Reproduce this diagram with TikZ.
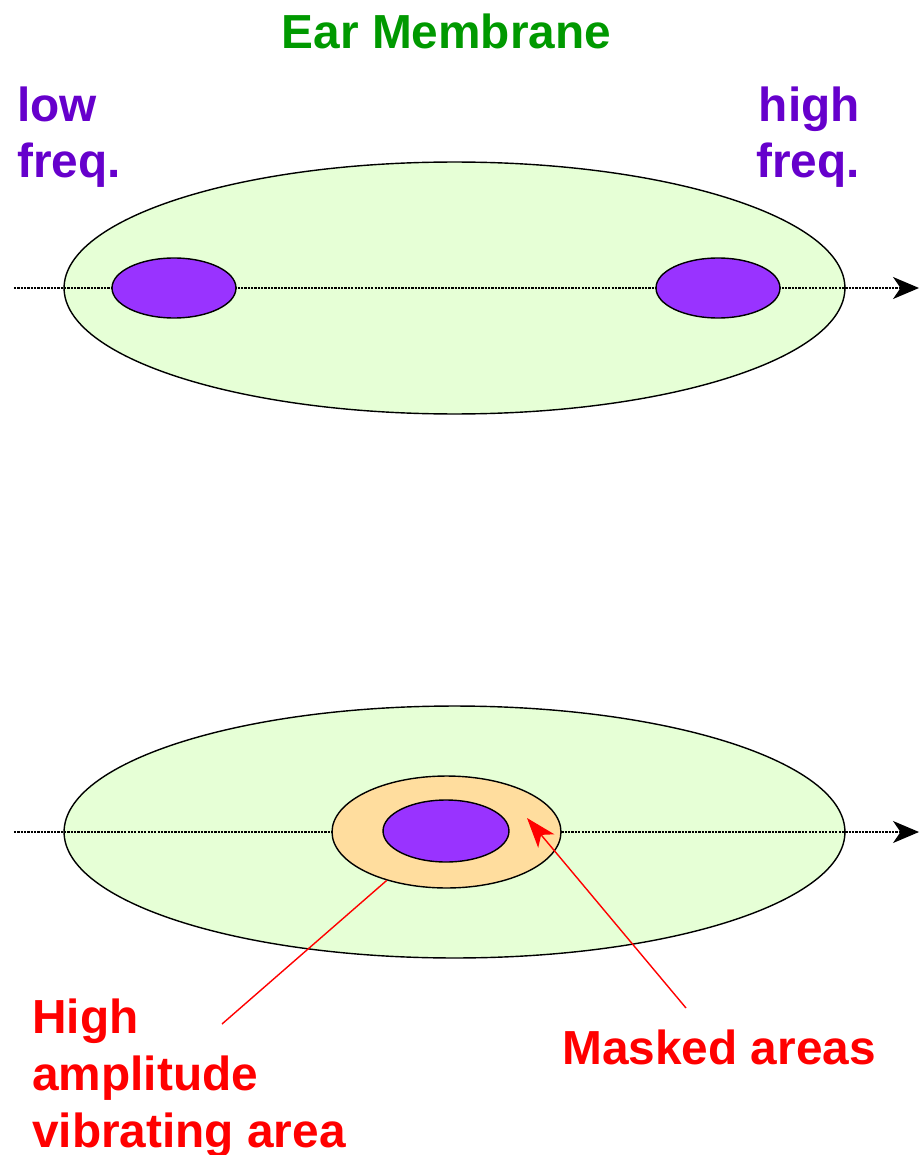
\documentclass[tikz,border=0pt]{standalone}
\usepackage{fontspec}
\setmainfont{Liberation Sans}
\usepackage{tikz}
\usetikzlibrary{shapes.geometric,arrows.meta}
\definecolor{titlegreen}{RGB}{0,153,0}
\definecolor{freqpurple}{RGB}{102,0,204}
\definecolor{membranegreen}{RGB}{230,255,214}
\definecolor{spotpurple}{RGB}{153,51,255}
\definecolor{maskorange}{RGB}{255,221,158}

\begin{document}
\begin{tikzpicture}[x=0.02cm, y=-0.02cm,
    membrane/.style={ellipse, draw, line width=0.8pt, fill=membranegreen, minimum width=15.62cm, minimum height=5.04cm, inner sep=0pt},
    spot/.style={ellipse, draw, line width=0.8pt, fill=spotpurple, minimum width=2.48cm, minimum height=1.2cm, inner sep=0pt},
    masked/.style={ellipse, draw, line width=0.8pt, fill=maskorange, minimum width=4.58cm, minimum height=2.24cm, inner sep=0pt},
    axisline/.style={-{Stealth[length=0.52cm, width=0.44cm, inset=0.15cm]}, line width=0.7pt, dash pattern=on 1.3pt off 0.6pt},
    label/.style={font=\bfseries\fontsize{27.2}{32.2}\selectfont, inner sep=0pt},
    pointer/.style={red, line width=0.8pt}
]
    \useasboundingbox (0,0) rectangle (920,1155);

    % Labels (base anchor of a multi-line node = last line)
    \node[label, text=titlegreen, anchor=base] (title) at (446.5,49) {Ear Membrane};
    \node[label, text=freqpurple, align=left, anchor=base west] (lowfreq) at (17,178) {low\\freq.};
    \node[label, text=freqpurple, align=right, anchor=base east] (highfreq) at (860,178) {high\\freq.};

    % Top membrane
    \node[membrane] (membraneA) at (454.5,288) {};
    \coordinate (axisAstart) at (14,288);
    \coordinate (axisAend) at (919,288);
    \draw[axisline] (axisAstart) -- (axisAend);
    \node[spot] (lowspot) at (174,288) {};
    \node[spot] (highspot) at (718,288) {};

    % Bottom membrane
    \node[membrane] (membraneB) at (454.5,832) {};
    \coordinate (axisBstart) at (14,832);
    \coordinate (axisBend) at (919,832);
    \draw[axisline] (axisBstart) -- (axisBend);
    \node[masked] (maskring) at (446.5,832) {};
    \node[spot, minimum width=2.52cm, minimum height=1.24cm] (loudspot) at (446,831) {};

    % Pointers
    \node[label, text=red, align=left, anchor=base west] (highamp) at (32,1147) {High\\amplitude\\vibrating area};
    \node[label, text=red, anchor=base west] (maskedlabel) at (562,1064) {Masked areas};
    \coordinate (highampend) at (222,1024);
    \coordinate (maskedend) at (686,1008);
    \coordinate (maskedtip) at (527,818);
    \draw[pointer] (highampend) -- (maskring.219);
    \draw[pointer, -{Stealth[length=0.6cm, width=0.42cm, inset=0.16cm]}] (maskedend) -- (maskedtip);
\end{tikzpicture}
\end{document}
